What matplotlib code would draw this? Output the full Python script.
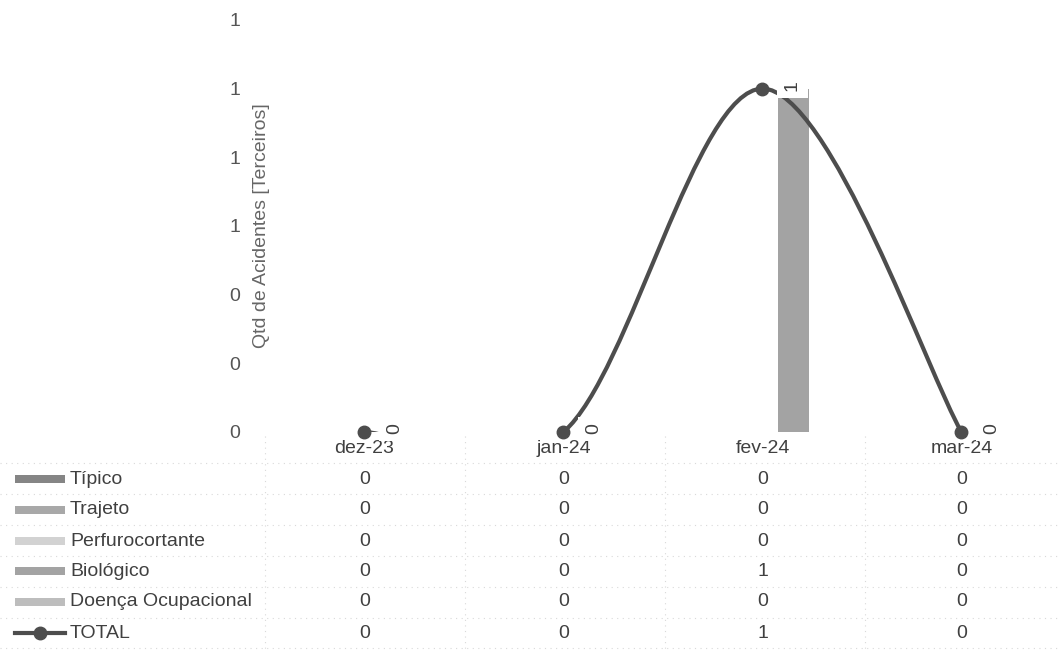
import matplotlib
matplotlib.use("Agg")
import matplotlib.pyplot as plt
from matplotlib.path import Path
from matplotlib.patches import PathPatch, Rectangle
from matplotlib.lines import Line2D
from matplotlib.ticker import FormatStrFormatter

plt.rcParams['font.family'] = ['Liberation Sans', 'DejaVu Sans']

# data
months = ['dez-23', 'jan-24', 'fev-24', 'mar-24']
tipico = [0, 0, 0, 0]
trajeto = [0, 0, 0, 0]
perfuro = [0, 0, 0, 0]
biologico = [0, 0, 1, 0]
doenca = [0, 0, 0, 0]
total = [0, 0, 1, 0]

bar_names = ['Típico', 'Trajeto', 'Perfurocortante', 'Biológico', 'Doença Ocupacional']
bar_series = [tipico, trajeto, perfuro, biologico, doenca]
bar_colors = ['#858585', '#a8a8a8', '#d2d2d2', '#a3a3a3', '#bdbdbd']
line_color = '#4d4d4d'
txt = '#404040'
W, H = 1058, 650

fig = plt.figure(figsize=(W / 100, H / 100), dpi=100)
ax = fig.add_axes([265 / W, 218 / H, 793 / W, 412 / H])

x = list(range(len(months)))
bw = 0.156
for k, (vals, c) in enumerate(zip(bar_series, bar_colors)):
    ax.bar([xi + (k - 2) * bw for xi in x], vals, width=bw, color=c, zorder=2)

# smoothed line (Excel-like bezier smoothing)
verts = [(x[0], total[0])]
codes = [Path.MOVETO]
n = len(x)
for i in range(n - 1):
    p0 = (x[max(i - 1, 0)], total[max(i - 1, 0)])
    p1 = (x[i], total[i])
    p2 = (x[i + 1], total[i + 1])
    p3 = (x[min(i + 2, n - 1)], total[min(i + 2, n - 1)])
    c1 = (p1[0] + (p2[0] - p0[0]) / 6, p1[1] + (p2[1] - p0[1]) / 6)
    c2 = (p2[0] - (p3[0] - p1[0]) / 6, p2[1] - (p3[1] - p1[1]) / 6)
    verts += [c1, c2, p2]
    codes += [Path.CURVE4] * 3
ax.add_patch(PathPatch(Path(verts, codes), fill=False, edgecolor=line_color,
                       lw=3, zorder=3, capstyle='round'))
ax.plot(x, total, 'o', ms=9, color=line_color, zorder=4, clip_on=False)

for xi, v in zip(x, total):
    ax.annotate(str(v), (xi, v), xytext=(30, 3), textcoords='offset pixels',
                rotation=90, ha='center', va='center', fontsize=14, color=txt,
                zorder=6,
                bbox=dict(boxstyle='square,pad=0.35', fc='white', ec='none'))

ax.set_xlim(-0.5, 3.485)
ax.set_ylim(0, 1.2)
ax.set_yticks([0, 0.2, 0.4, 0.6, 0.8, 1.0, 1.2])
ax.yaxis.set_major_formatter(FormatStrFormatter('%.0f'))
ax.set_xticks(x)
ax.set_xticklabels(months)
ax.tick_params(axis='y', length=0, pad=18, labelsize=14, labelcolor='#555555')
ax.tick_params(axis='x', length=0, pad=6, labelsize=14, labelcolor=txt)
for s in ax.spines.values():
    s.set_visible(False)

fig.text(262 / W, 1 - 226 / H, 'Qtd de Acidentes [Terceiros]', rotation=90,
         ha='center', va='center', fontsize=14, color='#666666')

# data table
row_y = [479, 510, 541, 571, 602, 633]
row_names = bar_names + ['TOTAL']
row_vals = bar_series + [total]
tr = ax.get_xaxis_transform()
for ry, name, vals in zip(row_y, row_names, row_vals):
    fy = 1 - ry / H
    fig.text(70 / W, fy, name, ha='left', va='center', fontsize=14, color=txt)
    for xi, v in zip(x, vals):
        ax.text(xi, (432 - ry) / 412, str(v), transform=tr, ha='center',
                va='center', fontsize=14, color=txt)

for ry, c in zip(row_y[:5], bar_colors):
    fig.add_artist(Rectangle((15 / W, 1 - (ry + 4) / H), 50 / W, 8 / H,
                             transform=fig.transFigure, color=c, lw=0))
fig.add_artist(Line2D([15 / W, 65 / W], [1 - row_y[5] / H] * 2,
                      transform=fig.transFigure, color=line_color, lw=3))
fig.add_artist(Line2D([40 / W], [1 - row_y[5] / H], transform=fig.transFigure,
                      marker='o', ms=9, color=line_color))

grid = '#d9d9d9'
for gy in [463, 494, 525, 556, 587, 618, 648]:
    fig.add_artist(Line2D([0, 1], [1 - gy / H] * 2, transform=fig.transFigure,
                          color=grid, lw=0.8, ls=(0, (1, 4))))
for gx in [265, 465, 665, 865]:
    fig.add_artist(Line2D([gx / W] * 2, [1 - 436 / H, 0], transform=fig.transFigure,
                          color=grid, lw=0.8, ls=(0, (1, 4))))

fig.savefig('out.png', dpi=100, facecolor='white')
